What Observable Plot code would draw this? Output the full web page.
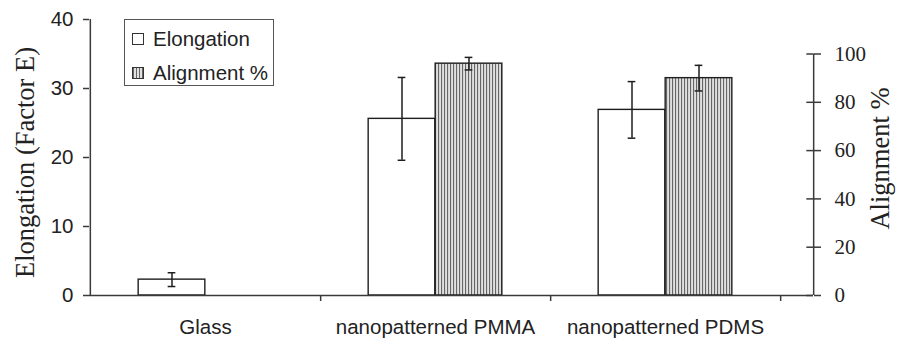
<!DOCTYPE html>
<html><head><meta charset="utf-8">
<script src="https://cdn.jsdelivr.net/npm/d3@7"></script>
<script src="https://cdn.jsdelivr.net/npm/@observablehq/plot@0.6"></script>
<style>
body{margin:0;background:#fff;}
#wrap{position:relative;width:897px;height:344px;}
#legend{position:absolute;left:124px;top:19px;width:148px;height:65px;border:1.5px solid #555;background:#fff;font-family:"Liberation Sans",Arial,sans-serif;font-size:20.5px;color:#222;}
.item{position:absolute;left:7px;height:22px;display:flex;align-items:center;white-space:nowrap;}
.sw{width:10px;height:10px;border:1.2px solid #333;margin-right:9px;box-sizing:content-box;}
.hatch{background:repeating-linear-gradient(90deg,#666 0 1px,#e0e0e0 1px 3px);}
</style></head>
<body>
<div id="wrap"></div>
<script>
// ---- data ----
const categories = ["Glass", "nanopatterned PMMA", "nanopatterned PDMS"];
const elongation = [2.3, 25.6, 26.9];
const elongationErr = [1.0, 6.0, 4.1];
const alignment = [0, 96, 90];
const alignmentErr = [0, 2.6, 5.3];
const leftTicks = [0, 10, 20, 30, 40];
const rightTicks = [0, 20, 40, 60, 80, 100];
const seriesNames = ["Elongation", "Alignment %"];

// right axis: 100 % sits at 35 on the left (Factor E) axis
const K = 0.35;

const rows = categories.map((c, i) => ({
  category: c,
  elong: elongation[i], elongErr: elongationErr[i],
  align: alignment[i], alignErr: alignmentErr[i]
}));

// ---- layout / style constants ----
const W = 897, H = 344;
const mL = 89, mR = 84, mT = 19, mB = 49;
const xRange = [89, 780];
const bw = (xRange[1] - xRange[0]) / categories.length;
const half = bw / 2;
const barW = 67;
const cap = 4;
const rightGap = 33;   // right axis sits this far past the last band
const ink = "#1e1e1e";
const axisInk = "#3a3a3a";
const sans = "Liberation Sans, Arial, sans-serif";
const serif = "Liberation Serif, Times New Roman, serif";
const lastCat = categories[categories.length - 1];

const defs = () => {
  const ns = "http://www.w3.org/2000/svg";
  const g = document.createElementNS(ns, "defs");
  g.innerHTML = `<pattern id="vhatch" patternUnits="userSpaceOnUse" width="3" height="6">
    <rect width="3" height="6" fill="#e0e0e0"></rect>
    <rect width="1.1" height="6" fill="#666"></rect></pattern>`;
  return g;
};

const alignRows = rows.filter(d => d.align > 0);

const chart = Plot.plot({
  width: W, height: H,
  marginLeft: mL, marginRight: mR, marginTop: mT, marginBottom: mB,
  style: {fontFamily: sans, fontSize: "20.5px", color: ink, background: "white", overflow: "visible"},
  x: {type: "band", domain: categories, range: xRange, padding: 0, label: null},
  y: {domain: [0, 40], label: null},
  marks: [
    defs,
    // bars
    Plot.barY(rows, {x: "category", y: "elong", fill: "white", stroke: ink, strokeWidth: 1.4,
      insetLeft: half - barW, insetRight: half}),
    Plot.barY(alignRows, {x: "category", y: d => d.align * K, fill: "url(#vhatch)", stroke: ink, strokeWidth: 1.4,
      insetLeft: half, insetRight: half - barW}),
    // error bars – elongation
    Plot.ruleX(rows, {x: "category", y1: d => d.elong - d.elongErr, y2: d => d.elong + d.elongErr,
      dx: -barW / 2, stroke: ink, strokeWidth: 1.5}),
    Plot.tickY(rows, {x: "category", y: d => d.elong - d.elongErr, stroke: ink, strokeWidth: 1.5,
      insetLeft: half - barW / 2 - cap, insetRight: half + barW / 2 - cap}),
    Plot.tickY(rows, {x: "category", y: d => d.elong + d.elongErr, stroke: ink, strokeWidth: 1.5,
      insetLeft: half - barW / 2 - cap, insetRight: half + barW / 2 - cap}),
    // error bars – alignment
    Plot.ruleX(alignRows, {x: "category", y1: d => (d.align - d.alignErr) * K, y2: d => (d.align + d.alignErr) * K,
      dx: barW / 2, stroke: ink, strokeWidth: 1.5}),
    Plot.tickY(alignRows, {x: "category", y: d => (d.align - d.alignErr) * K, stroke: ink, strokeWidth: 1.5,
      insetLeft: half + barW / 2 - cap, insetRight: half - barW / 2 - cap}),
    Plot.tickY(alignRows, {x: "category", y: d => (d.align + d.alignErr) * K, stroke: ink, strokeWidth: 1.5,
      insetLeft: half + barW / 2 - cap, insetRight: half - barW / 2 - cap}),
    // baseline and axis lines
    Plot.ruleY([0], {stroke: axisInk, strokeWidth: 1.5}),
    Plot.ruleX([categories[0]], {x: d => d, y1: 0, y2: 40, dx: -half, stroke: axisInk, strokeWidth: 1.5}),
    Plot.ruleX([lastCat], {x: d => d, y1: 0, y2: 100 * K, dx: half + rightGap, stroke: axisInk, strokeWidth: 1.5}),
    // category boundary ticks
    Plot.ruleX(categories, {x: d => d, y1: 0, y2: 0, insetBottom: -6, dx: half, stroke: axisInk, strokeWidth: 1.5}),
    // inner half of the right-axis ticks (they cross the axis)
    Plot.tickY(rightTicks, {x: () => lastCat, y: v => v * K, stroke: axisInk, strokeWidth: 1.5,
      insetLeft: bw + rightGap - 7, insetRight: -rightGap}),
    // axes
    Plot.axisX({anchor: "bottom", tickSize: 0, tickPadding: 24, fontSize: 20.5, fill: "#222", label: null}),
    Plot.axisY(leftTicks, {anchor: "left", tickSize: 6, tickPadding: 10, fontSize: 20.5, stroke: axisInk, strokeWidth: 1.5, fill: "#222", label: null}),
    Plot.axisY(rightTicks.map(v => v * K), {anchor: "right", tickSize: 7, tickPadding: 14, label: null,
      tickFormat: v => String(Math.round(v / K)), fontFamily: serif, fontSize: 21, stroke: axisInk, strokeWidth: 1.5, fill: "#222"}),
    // axis titles
    Plot.text(["Elongation (Factor E)"], {text: d => d, frameAnchor: "left", textAnchor: "middle", rotate: -90, dx: -64, dy: 5,
      fontFamily: serif, fontSize: 26.5, fill: "#222"}),
    Plot.text(["Alignment %"], {text: d => d, frameAnchor: "right", textAnchor: "middle", rotate: -90, dx: 67, dy: 1,
      fontFamily: serif, fontSize: 26.5, fill: "#222"})
  ]
});

const wrap = document.getElementById("wrap");
wrap.appendChild(chart);

// legend (overlay inside the plot area)
const legend = document.createElement("div");
legend.id = "legend";
seriesNames.forEach((name, i) => {
  const item = document.createElement("div");
  item.className = "item";
  item.style.top = (8 + i * 34) + "px";
  const sw = document.createElement("span");
  sw.className = "sw" + (i === 1 ? " hatch" : "");
  const t = document.createElement("span");
  t.textContent = name;
  item.appendChild(sw); item.appendChild(t);
  legend.appendChild(item);
});
wrap.appendChild(legend);
</script>
</body></html>
